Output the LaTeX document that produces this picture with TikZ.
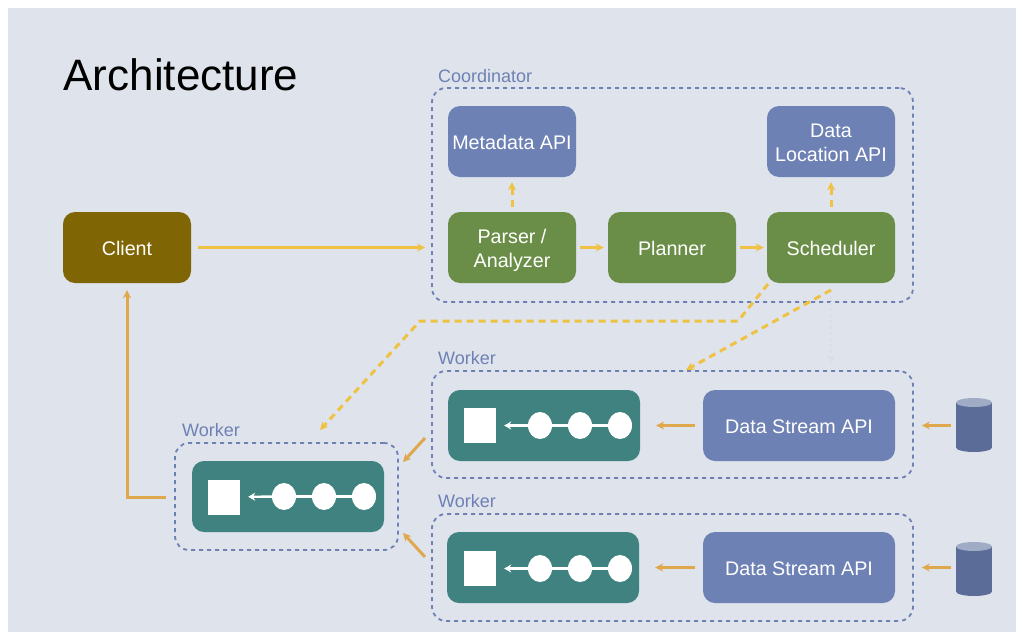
\documentclass[tikz,border=0pt]{standalone}
\usepackage{fontspec}
\setmainfont{Liberation Sans}
\usetikzlibrary{arrows.meta,shapes.geometric}
\definecolor{archBg}{HTML}{dfe3ec}
\definecolor{archBlue}{HTML}{6e81b4}
\definecolor{archGreen}{HTML}{6a8e47}
\definecolor{archBrown}{HTML}{7f6504}
\definecolor{archTeal}{HTML}{3f8280}
\definecolor{archYellow}{HTML}{efc244}
\definecolor{archOrange}{HTML}{e0a84c}
\definecolor{archFaint}{HTML}{d9deea}
\definecolor{archDrum}{HTML}{5a6c97}
\definecolor{archDrumTop}{HTML}{a0abc6}
\tikzset{
  >={Stealth[length=8pt,width=8pt]},
  box/.style={rounded corners=12pt, align=center, inner sep=0pt, text=white,
              minimum width=128pt, minimum height=71pt, text depth=0pt, text height=16pt,
              font=\fontsize{19.7}{24}\selectfont},
  twolines/.style={text height=40pt},
  apibox/.style={box, fill=archBlue},
  stepbox/.style={box, fill=archGreen},
  widebox/.style={box, fill=archBlue, minimum width=192pt},
  chainbox/.style={box, fill=archTeal, minimum width=192pt},
  group/.style={rounded corners=14pt, draw=archBlue, line width=1.8pt,
              dash pattern=on 4pt off 4pt, inner sep=0pt},
  lbl/.style={font=\fontsize{18}{22}\selectfont, text=archBlue, anchor=west, inner sep=0pt},
  sq/.style={fill=white, minimum width=32pt, minimum height=35pt, inner sep=0pt},
  dot/.style={ellipse, fill=white, minimum width=24pt, minimum height=27pt, inner sep=0pt},
  drum/.style={fill=archDrum, minimum width=36pt, minimum height=45pt, inner sep=0pt},
  drumend/.style={ellipse, fill=archDrum, minimum width=36pt, minimum height=9pt, inner sep=0pt},
  drumtop/.style={drumend, fill=archDrumTop},
  flow/.style={->, draw=archYellow, line width=2.8pt},
  cflow/.style={->, draw=archYellow, line width=3pt, dash pattern=on 7pt off 5pt},
  oflow/.style={->, draw=archOrange, line width=3pt},
  link/.style={draw=white, line width=2.4pt},
}
\begin{document}
\begin{tikzpicture}[x=1pt,y=-1pt]
        \useasboundingbox (0,0) rectangle (1024,640);
        \fill[archBg] (8,8) rectangle (1016,632);
        \node[font=\fontsize{44}{50}\selectfont,inner sep=0pt] (title) at (181,75){Architecture};
        % groups
        \node[group,minimum width=481pt,minimum height=214pt] (coord) at (672.5,195){};
        \node[group,minimum width=481pt,minimum height=107pt] (wka) at (672.5,424.5){};
        \node[group,minimum width=481pt,minimum height=107pt] (wkb) at (672.5,567.5){};
        \node[group,minimum width=223pt,minimum height=107pt] (wkc) at (286.5,496.5){};
        \node[lbl] (coordlbl) at (438,76){Coordinator};
        \node[lbl] (wkalbl) at (438,358){Worker};
        \node[lbl] (wkblbl) at (438,501){Worker};
        \node[lbl] (wkclbl) at (182,430){Worker};
        % boxes
        \node[box,fill=archBrown] (client) at (127,247.5){Client};
        \node[apibox] (meta) at (512,141.5){Metadata API};
        \node[apibox,twolines] (loc) at (831,141.5){Data\\Location API};
        \node[stepbox,twolines] (parser) at (512,247.5){Parser /\\Analyzer};
        \node[stepbox] (planner) at (672,247.5){Planner};
        \node[stepbox] (sched) at (831,247.5){Scheduler};
        \node[widebox] (dsa) at (799,425.5){Data Stream API};
        \node[widebox] (dsb) at (799,567.5){Data Stream API};
        % drums
        \node[drum] (dba) at (974,425){};
        \node[drumend] (dbabot) at (974,447.5){};
        \node[drumtop] (dbatop) at (974,402.5){};
        \node[drum] (dbb) at (974,569){};
        \node[drumend] (dbbbot) at (974,591.5){};
        \node[drumtop] (dbbtop) at (974,546.5){};
        % operator chains
        \node[chainbox] (cha) at (544,425.5){};
        \node[sq] (sqa) at (480,425.5){};
        \node[dot] (aa) at (540,425.5){};\node[dot] (ab) at (580,425.5){};\node[dot] (ac) at (620,425.5){};
        \node[chainbox] (chb) at (543,567.5){};
        \node[sq] (sqb) at (480,568.5){};
        \node[dot] (ba) at (540,568.5){};\node[dot] (bb) at (580,568.5){};\node[dot] (bc) at (620,568.5){};
        \node[chainbox] (chc) at (288,496.5){};
        \node[sq] (sqc) at (224,497){};
        \node[dot] (ca) at (284,496.5){};\node[dot] (cb) at (324,496.5){};\node[dot] (cc) at (364,496.5){};
        \draw[link](ac)--(ab);\draw[link](ab)--(aa);
        \draw[link](bc)--(bb);\draw[link](bb)--(ba);
        \draw[link](cc)--(cb);\draw[link](cb)--(ca);
        \draw[link,->,>={Stealth[length=7pt,width=8pt]},shorten >=8pt](aa)--(sqa);
        \draw[link,->,>={Stealth[length=7pt,width=8pt]},shorten >=8pt](ba)--(sqb);
        \draw[link,->,>={Stealth[length=7pt,width=8pt]},shorten >=8pt](ca)--(sqc);
        % free ends of the dashed lines
        \coordinate (schedleft) at (768,284);
        \coordinate (schedmid) at (831,290);
        \coordinate (elbowa) at (738,321);
        \coordinate (elbowb) at (420,321);
        \coordinate (wkcin) at (320,430);
        \coordinate (wkain) at (686,370);
        \coordinate (fainttip) at (831,363);
        \coordinate (wkaout) at (425,438);
        \coordinate (wkbout) at (425,557);
        \coordinate (wkctop) at (403,462);
        \coordinate (wkcbot) at (403,533);
        \coordinate (turn) at (127,497);
        % connectors
        \draw[flow,shorten <=7pt,shorten >=6pt](client)--(coord.west|-client);
        \draw[flow,shorten <=4pt,shorten >=4pt](parser)--(planner);
        \draw[flow,shorten <=4pt,shorten >=3pt](planner)--(sched);
        \draw[cflow,shorten <=5pt,shorten >=5pt](parser)--(meta);
        \draw[cflow,shorten <=5pt,shorten >=5pt](sched)--(loc);
        \draw[draw=archFaint,line width=1.5pt,dashed,->](schedmid)--(fainttip);
        \draw[cflow](schedmid)--(wkain);
        \draw[cflow](schedleft)--(elbowa)--(elbowb)--(wkcin);
        \draw[oflow,shorten <=8pt,shorten >=16pt](dsa)--(cha);
        \draw[oflow,shorten <=8pt,shorten >=16pt](dsb)--(chb);
        \draw[oflow,shorten <=5pt,shorten >=8pt](dba.west|-dsa)--(wka.east|-dsa);
        \draw[oflow,shorten <=5pt,shorten >=8pt](dbb.west|-dsb)--(wkb.east|-dsb);
        \draw[oflow](wkaout)--(wkctop);
        \draw[oflow](wkbout)--(wkcbot);
        \draw[oflow,shorten <=8pt,shorten >=7pt](wkc.west|-turn)--(turn)--(client);
      \end{tikzpicture}
\end{document}
